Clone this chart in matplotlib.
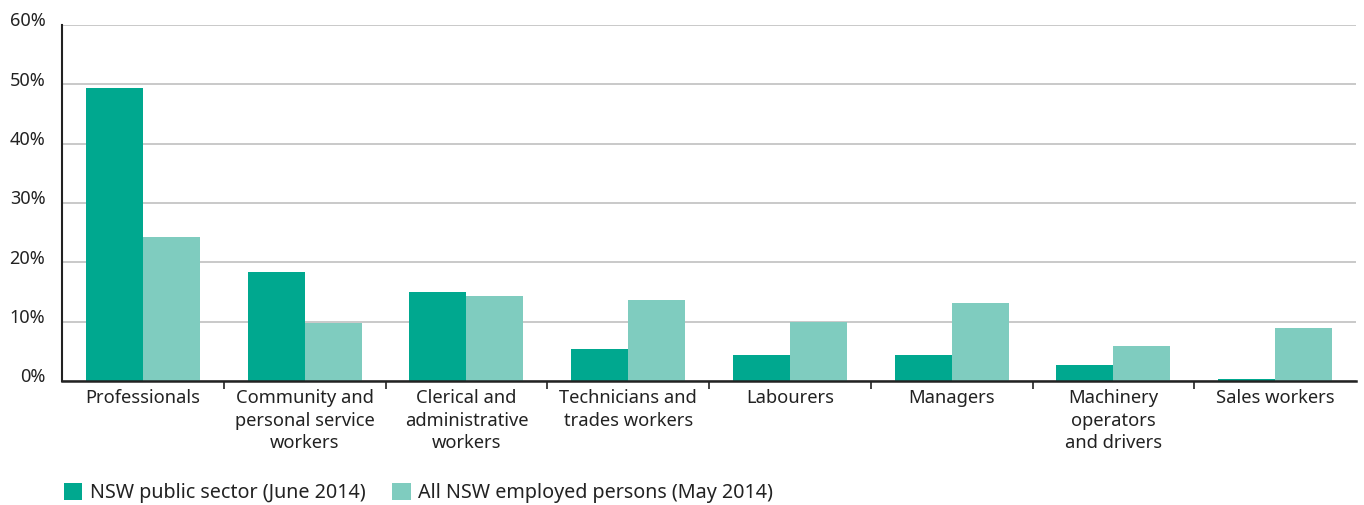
import matplotlib.pyplot as plt
import matplotlib.transforms as mtransforms
import numpy as np

plt.rcParams['font.family'] = ['Noto Sans', 'DejaVu Sans']

categories = ["Professionals", "Community and\npersonal service\nworkers",
              "Clerical and\nadministrative\nworkers", "Technicians and\ntrades workers",
              "Labourers", "Managers", "Machinery\noperators\nand drivers", "Sales workers"]
public_sector = [49.4, 18.4, 15.0, 5.4, 4.4, 4.4, 2.7, 0.3]
all_employed = [24.3, 9.8, 14.3, 13.7, 9.9, 13.2, 5.9, 8.9]
y_ticks = [0, 10, 20, 30, 40, 50, 60]
series_labels = ["NSW public sector (June 2014)", "All NSW employed persons (May 2014)"]

dark = "#00A88F"
light = "#7FCCBF"

fig = plt.figure(figsize=(13.64, 5.05), dpi=100)
ax = fig.add_axes([62/1364, 1-381/505, (1356-62)/1364, (381-25)/505])

x = np.arange(len(categories))
w = 0.353
ax.bar(x - w/2, public_sector, w, color=dark, label=series_labels[0], zorder=3)
ax.bar(x + w/2, all_employed, w, color=light, label=series_labels[1], zorder=3)

ax.set_xlim(-0.5, len(categories) - 0.5)
ax.set_ylim(0, 60)
ax.set_yticks(y_ticks, [f"{v}%" for v in y_ticks])
ax.yaxis.grid(True, color="#c0c0c0", linewidth=1.2, zorder=0)
ax.tick_params(axis="y", length=0, pad=12, labelsize=13, labelcolor="#222222")
for lbl in ax.get_yticklabels():
    lbl.set_transform(lbl.get_transform() + mtransforms.ScaledTranslation(0, 4/72, fig.dpi_scale_trans))

ax.set_xticks(x, categories)
ax.set_xticks(x[:-1] + 0.5, minor=True)
ax.tick_params(axis="x", which="major", length=0, pad=6, labelsize=13.2, labelcolor="#222222")
ax.tick_params(axis="x", which="minor", length=6, width=1.2, color="#222222")
for lbl in ax.get_xticklabels():
    lbl.set_linespacing(1.32)

for s in ["top", "right"]:
    ax.spines[s].set_visible(False)
ax.spines["left"].set_linewidth(1.5)
ax.spines["bottom"].set_linewidth(1.8)
ax.spines["left"].set_color("#222222")
ax.spines["bottom"].set_color("#222222")
ax.spines["bottom"].set_zorder(4)

fig.legend(loc="lower left", bbox_to_anchor=(46/1364, -0.032), ncol=2, frameon=False,
           fontsize=14.2, handlelength=0.95, handleheight=0.95, handletextpad=0.4,
           columnspacing=1.3, labelcolor="#222222")

fig.savefig("out.png", dpi=100)
